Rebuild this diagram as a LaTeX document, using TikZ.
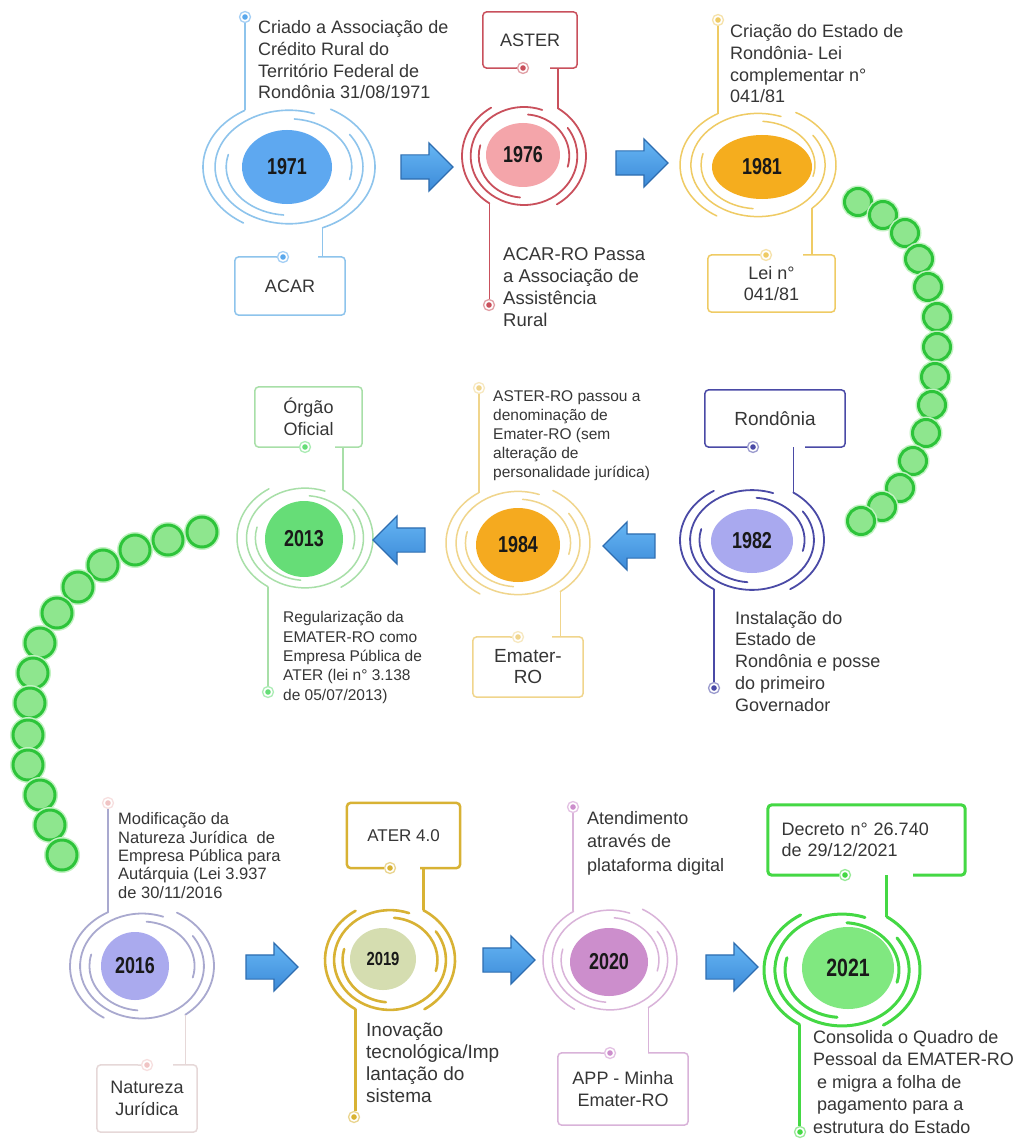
\documentclass[tikz,border=0pt]{standalone}
\usepackage{fontspec}
\usepackage{graphicx}
\setmainfont{Liberation Sans}
\usetikzlibrary{calc,shapes.geometric,shapes.arrows}
\definecolor{txtc}{HTML}{363636}
\definecolor{c71f}{HTML}{5EA8F0}\definecolor{c71r}{HTML}{8EC4EC}\definecolor{c71d}{HTML}{5AA8EC}
\definecolor{c76f}{HTML}{F4A5AA}\definecolor{c76r}{HTML}{C9505C}
\definecolor{c81f}{HTML}{F5AD1E}\definecolor{c81r}{HTML}{EFCB64}
\definecolor{c82f}{HTML}{A9A9EF}\definecolor{c82r}{HTML}{4A4AA6}
\definecolor{c84f}{HTML}{F5AA1F}\definecolor{c84r}{HTML}{F0D58C}
\definecolor{c13f}{HTML}{66DD77}\definecolor{c13r}{HTML}{A8DFA8}
\definecolor{c16f}{HTML}{AAAAEE}\definecolor{c16r}{HTML}{A9A9CF}\definecolor{c16p}{HTML}{F0C4C4}\definecolor{c16b}{HTML}{E6D8D8}
\definecolor{c19f}{HTML}{D5DDB0}\definecolor{c19r}{HTML}{D8B234}
\definecolor{c20f}{HTML}{CC8ECC}\definecolor{c20r}{HTML}{D9B3D9}
\definecolor{c21f}{HTML}{80E880}\definecolor{c21r}{HTML}{44D844}
\definecolor{arrt}{HTML}{66B6F4}\definecolor{arrb}{HTML}{3C8AD8}\definecolor{arrd}{HTML}{2E6DB0}
\definecolor{beadf}{HTML}{8EE68E}\definecolor{beadd}{HTML}{2DC43A}\definecolor{beadg}{HTML}{C2F2C2}
\newcommand{\yl}[2][23]{\scalebox{0.78}[1]{\fontsize{#1}{#1}\selectfont\bfseries #2}}
\newcommand{\drawrings}[9]{%
 \begin{scope}[shift={(#1)}, line width=#5, draw=#4, line cap=round]
  \draw (#6:{#2} and {#3}) arc[start angle=#6, end angle=#7, x radius=#2, y radius=#3];
  \draw (#8:{#2} and {#3}) arc[start angle=#8, end angle=#9, x radius=#2, y radius=#3];
  \coordinate (#1-a1) at (#6:{#2} and {#3});
  \coordinate (#1-a2) at (#7:{#2} and {#3});
  \coordinate (#1-a3) at (#8:{#2} and {#3});
  \coordinate (#1-a4) at (#9:{#2} and {#3});
  \pgfmathsetmacro\mrx{0.86*#2}\pgfmathsetmacro\mry{0.86*#3}
  \draw (70:{\mrx} and {\mry}) arc[start angle=70, end angle=395, x radius=\mrx, y radius=\mry];
  \pgfmathsetmacro\irx{0.73*#2}\pgfmathsetmacro\iry{0.73*#3}
  \draw (85:{\irx} and {\iry}) arc[start angle=85, end angle=-15, x radius=\irx, y radius=\iry];
  \draw (165:{\irx} and {\iry}) arc[start angle=165, end angle=265, x radius=\irx, y radius=\iry];
 \end{scope}}
\tikzset{
 txt/.style={anchor=base west, inner sep=0, align=left, text=txtc, font=\fontsize{18}{21.7}\selectfont},
 smalltxt/.style={txt, font=\fontsize{15.5}{18.8}\selectfont},
 boxn/.style={inner sep=0, align=center, text=txtc, font=\fontsize{18}{21.5}\selectfont},
 boxl/.style={draw=#1, line width=1.5, rounded corners=4},
 conn/.style={draw=#1, line width=1.5},
 yr/.style={ellipse, inner sep=0, draw=none, text=black!90},
 dot/.style={circle, inner sep=0, minimum size=11pt, draw=#1!55, line width=1.3, fill=white,
   path picture={\fill[#1] (path picture bounding box.center) circle (2.8);}},
 rarr/.style={single arrow, single arrow head extend=12pt, text height=11.5pt, text depth=11.5pt,
   minimum height=52pt, inner sep=0, draw=arrd, line width=1.2, top color=arrt, bottom color=arrb},
 larr/.style={rarr, shape border rotate=180},
 bead/.style={circle, inner sep=0, minimum size=#1, draw=beadd, line width=3, fill=beadf,
   preaction={draw=beadg, line width=6}},
}
\begin{document}
\begin{tikzpicture}[x=1pt,y=1pt]
\useasboundingbox (0,0) rectangle (1014,-1142);
\fill[white] (0,0) rectangle (1014,-1142);

% ---------- green chains
\foreach \x/\y [count=\i] in {858/202,883/215,905/233,919/259,928/287,937/317,937/347,935/377,932/405,926/433,913/461,900/488,882/507,861/521}
  \node[bead=27pt] (ra\i) at (\x,-\y) {};
\foreach \x/\y [count=\i] in {202/532,168/540,135/550,103/565,78/587,57/613,40/643,33/673,30/703,28/735,28/765,40/795,50/825,62/855}
  \node[bead=30pt] (la\i) at (\x,-\y) {};

% ---------- 1971
\coordinate (c1971) at (289,-167);
\drawrings{c1971}{86}{66}{c71r}{1.6}{121}{238}{-67}{61}
\node[yr, fill=c71f, minimum width=90pt, minimum height=74pt] (n1971) at (287,-167) {\yl{1971}};
\node[dot=c71d] (d1971) at (245,-17) {};
\draw[conn=c71r] (d1971.south) -- (d1971.south |- c1971-a1);
\node[txt] (t1971) at (258,-99) {Criado a Associação de\\Crédito Rural do\\Território Federal de\\Rondônia 31/08/1971};
\node[boxn, minimum width=110pt, minimum height=58pt] (b1971) at (290,-286) {ACAR};
\node[dot=c71d] (e1971) at (283,-257) {};
\draw[boxl=c71r] (e1971.west) -- (b1971.north west) -- (b1971.south west) -- (b1971.south east) -- (b1971.north east) -- (318,0 |- b1971.north);
\draw[conn=c71r] (c1971-a3) -- (c1971-a3 |- b1971.north);

% ---------- 1976
\coordinate (c1976) at (524,-156);
\drawrings{c1976}{62}{57}{c76r}{1.8}{122}{236}{-58}{57}
\node[yr, fill=c76f, minimum width=74pt, minimum height=64pt] (n1976) at (523,-155) {\yl{1976}};
\node[boxn, minimum width=94pt, minimum height=56pt] (b1976) at (530,-40) {ASTER};
\node[dot=c76r] (e1976) at (523,-68) {};
\draw[boxl=c76r] (550,0 |- b1976.south) -- (b1976.south east) -- (b1976.north east) -- (b1976.north west) -- (b1976.south west) -- (e1976.west);
\draw[conn=c76r] (c1976-a4 |- b1976.south) -- (c1976-a4);
\node[dot=c76r] (d1976) at (489,-305) {};
\draw[conn=c76r] (c1976-a2) -- (c1976-a2 |- d1976.north);
\node[txt, font=\fontsize{18.5}{21.7}\selectfont] (t1976) at (503,-326) {ACAR-RO Passa\\a Associação de\\Assistência\\Rural};

% ---------- 1981
\coordinate (c1981) at (758,-165);
\drawrings{c1981}{78}{60}{c81r}{1.5}{121}{238}{-46}{61}
\node[yr, fill=c81f, minimum width=100pt, minimum height=64pt] (n1981) at (762,-167) {\yl{1981}};
\node[dot=c81r] (d1981) at (718,-20) {};
\draw[conn=c81r] (d1981.south) -- (d1981.south |- c1981-a1);
\node[txt] (t1981) at (730,-103) {Criação do Estado de\\Rondônia- Lei\\complementar n°\\041/81};
\node[boxn, minimum width=127pt, minimum height=57pt] (b1981) at (771.5,-283.5) {Lei n°\\041/81};
\node[dot=c81r] (e1981) at (766,-255) {};
\draw[boxl=c81r] (e1981.west) -- (b1981.north west) -- (b1981.south west) -- (b1981.south east) -- (b1981.north east) -- (803,0 |- b1981.north);
\draw[conn=c81r] (c1981-a3) -- (c1981-a3 |- b1981.north);

% ---------- 1982
\coordinate (c1982) at (752,-540);
\drawrings{c1982}{72}{58}{c82r}{1.8}{122}{238}{-58}{55}
\node[yr, fill=c82f, minimum width=82pt, minimum height=64pt] (n1982) at (752,-541) {\yl{1982}};
\node[boxn, minimum width=140pt, minimum height=57pt, font=\fontsize{19}{22}\selectfont] (b1982) at (775,-418.5) {Rondônia};
\node[dot=c82r] (e1982) at (753,-447) {};
\draw[boxl=c82r] (805,0 |- b1982.south) -- (b1982.south east) -- (b1982.north east) -- (b1982.north west) -- (b1982.south west) -- (e1982.west);
\draw[conn=c82r] (c1982-a4 |- b1982.south) -- (c1982-a4);
\node[dot=c82r] (d1982) at (714,-688) {};
\draw[conn=c82r] (c1982-a2) -- (c1982-a2 |- d1982.north);
\node[txt] (t1982) at (735,-711) {Instalação do\\Estado de\\Rondônia e posse\\do primeiro\\Governador};

% ---------- 1984
\coordinate (c1984) at (518,-543);
\drawrings{c1984}{72}{60}{c84r}{1.5}{123}{238}{-54}{61}
\node[yr, fill=c84f, minimum width=84pt, minimum height=74pt] (n1984) at (518,-545) {\yl{1984}};
\node[dot=c84r] (d1984) at (479,-388) {};
\draw[conn=c84r] (d1984.south) -- (d1984.south |- c1984-a1);
\node[smalltxt] (t1984) at (493,-477) {ASTER-RO passou a\\denominação de\\Emater-RO (sem\\alteração de\\personalidade jurídica)};
\node[boxn, minimum width=110pt, minimum height=60pt, font=\fontsize{19}{21}\selectfont] (b1984) at (528,-667) {Emater-\\RO};
\node[dot=c84r] (e1984) at (518,-637) {};
\draw[boxl=c84r] (e1984.west) -- (b1984.north west) -- (b1984.south west) -- (b1984.south east) -- (b1984.north east) -- (552,0 |- b1984.north);
\draw[conn=c84r] (c1984-a3) -- (c1984-a3 |- b1984.north);

% ---------- 2013
\coordinate (c2013) at (305,-538);
\drawrings{c2013}{68}{58}{c13r}{1.5}{122}{237}{-58}{56}
\node[yr, fill=c13f, minimum width=78pt, minimum height=76pt] (n2013) at (304,-539) {\yl{2013}};
\node[boxn, minimum width=107pt, minimum height=60pt] (b2013) at (308.5,-417) {Órgão\\Oficial};
\node[dot=c13f] (e2013) at (305,-447) {};
\draw[boxl=c13r] (335,0 |- b2013.south) -- (b2013.south east) -- (b2013.north east) -- (b2013.north west) -- (b2013.south west) -- (e2013.west);
\draw[conn=c13r] (c2013-a4 |- b2013.south) -- (c2013-a4);
\node[dot=c13f] (d2013) at (268,-692) {};
\draw[conn=c13r] (c2013-a2) -- (c2013-a2 |- d2013.north);
\node[smalltxt, font=\fontsize{15.5}{19.3}\selectfont] (t2013) at (283,-700) {Regularização da\\EMATER-RO como\\Empresa Pública de\\ATER (lei n° 3.138\\de 05/07/2013)};

% ---------- 2016
\coordinate (c2016) at (142,-966);
\drawrings{c2016}{72}{61}{c16r}{1.8}{118}{238}{-53}{61}
\node[yr, fill=c16f, minimum width=68pt, minimum height=68pt] (n2016) at (135,-966) {\yl{2016}};
\node[dot=c16p] (d2016) at (108,-803) {};
\draw[conn=c16r] (d2016.south) -- (d2016.south |- c2016-a1);
\node[smalltxt, font=\fontsize{16.5}{18.3}\selectfont] (t2016) at (118,-898) {Modificação da\\Natureza Jurídica\ \ de\\Empresa Pública para\\Autárquia (Lei 3.937\\de 30/11/2016};
\node[boxn, minimum width=100pt, minimum height=67pt] (b2016) at (147,-1098.5) {Natureza\\Jurídica};
\node[dot=c16p] (e2016) at (147,-1065) {};
\draw[boxl=c16b] (e2016.west) -- (b2016.north west) -- (b2016.south west) -- (b2016.south east) -- (b2016.north east) -- (173,0 |- b2016.north);
\draw[conn=c16b] (c2016-a3) -- (c2016-a3 |- b2016.north);

% ---------- 2019
\coordinate (c2019) at (390,-960);
\drawrings{c2019}{65}{58}{c19r}{2.6}{122}{238}{-58}{59}
\node[yr, fill=c19f, minimum width=66pt, minimum height=62pt] (n2019) at (383,-959) {\yl[19]{2019}};
\node[boxn, minimum width=113pt, minimum height=65pt, font=\fontsize{17}{20}\selectfont] (b2019) at (403.5,-835.5) {ATER 4.0};
\node[dot=c19r] (e2019) at (390,-868) {};
\draw[boxl=c19r, line width=2.5] (420,0 |- b2019.south) -- (b2019.south east) -- (b2019.north east) -- (b2019.north west) -- (b2019.south west) -- (e2019.west);
\draw[conn=c19r, line width=2.5] (c2019-a4 |- b2019.south) -- (c2019-a4);
\node[dot=c19r] (d2019) at (354,-1117) {};
\draw[conn=c19r, line width=2.5] (c2019-a2) -- (c2019-a2 |- d2019.north);
\node[txt, font=\fontsize{19}{22}\selectfont] (t2019) at (366,-1102) {Inovação\\tecnológica/Imp\\lantação do\\sistema};

% ---------- 2020
\coordinate (c2020) at (610,-960);
\drawrings{c2020}{67}{58}{c20r}{1.5}{123}{238}{-55}{61}
\node[yr, fill=c20f, minimum width=78pt, minimum height=68pt] (n2020) at (609,-962) {\yl{2020}};
\node[dot=c20f] (d2020) at (573,-807) {};
\draw[conn=c20r] (d2020.south) -- (d2020.south |- c2020-a1);
\node[txt, font=\fontsize{18}{23.5}\selectfont] (t2020) at (587,-871) {Atendimento\\através de\\plataforma digital};
\node[boxn, minimum width=130pt, minimum height=72pt] (b2020) at (623,-1089) {APP - Minha\\Emater-RO};
\node[dot=c20f] (e2020) at (610,-1053) {};
\draw[boxl=c20r] (e2020.west) -- (b2020.north west) -- (b2020.south west) -- (b2020.south east) -- (b2020.north east) -- (648,0 |- b2020.north);
\draw[conn=c20r] (c2020-a3) -- (c2020-a3 |- b2020.north);

% ---------- 2021
\coordinate (c2021) at (842,-970);
\drawrings{c2021}{78}{65}{c21r}{3}{122}{237}{-58}{55}
\node[yr, fill=c21f, minimum width=92pt, minimum height=82pt] (n2021) at (848,-968) {\yl[25]{2021}};
\node[boxn, minimum width=197pt, minimum height=70pt, text width=170pt, align=left] (b2021) at (866.5,-840) {Decreto n° 26.740\\de 29/12/2021};
\node[dot=c21r] (e2021) at (845,-875) {};
\draw[boxl=c21r, line width=3] (913,0 |- b2021.south) -- (b2021.south east) -- (b2021.north east) -- (b2021.north west) -- (b2021.south west) -- (e2021.west);
\draw[conn=c21r, line width=3] (c2021-a4 |- b2021.south) -- (c2021-a4);
\node[dot=c21r] (d2021) at (800,-1132) {};
\draw[conn=c21r, line width=3] (c2021-a2) -- (c2021-a2 |- d2021.north);
\node[txt, font=\fontsize{18}{22.5}\selectfont] (t2021) at (813,-1133) {Consolida o Quadro de\\Pessoal da EMATER-RO\\\hspace{4pt}e migra a folha de\\\hspace{4pt}pagamento para a\\estrutura do Estado};

% ---------- block arrows
\node[rarr] (a1) at (421,-167) {};
\node[rarr] (a2) at (636,-163) {};
\node[larr] (a3) at (635,-546) {};
\node[larr] (a4) at (405,-540) {};
\node[rarr] (a5) at (266,-967) {};
\node[rarr] (a6) at (503,-960) {};
\node[rarr] (a7) at (726,-967) {};
\end{tikzpicture}
\end{document}
